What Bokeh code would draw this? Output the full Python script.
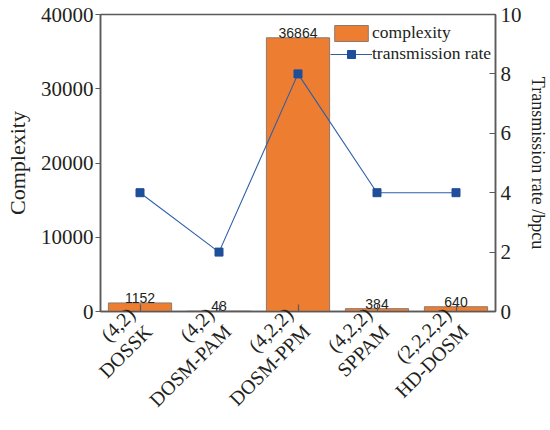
import math
from bokeh.plotting import figure
from bokeh.models import (ColumnDataSource, Range1d, LinearAxis, Legend, LegendItem,
                          FactorRange)
from bokeh.core.properties import value
from bokeh.embed import file_html
from bokeh.resources import INLINE

categories = ["(4,2)\nDOSSK", "(4,2)\nDOSM-PAM", "(4,2,2)\nDOSM-PPM", "(4,2,2)\nSPPAM", "(2,2,2,2)\nHD-DOSM"]
complexity = [1152, 48, 36864, 384, 640]
rate = [4, 2, 8, 4, 4]

SERIF = "Liberation Serif"
TXT = "#231f20"
AX = "#5a5a5a"

src = ColumnDataSource(dict(cat=categories, comp=complexity, rate=rate,
                            lbl=[str(v) for v in complexity]))

p = figure(width=550, height=430, x_range=FactorRange(*categories, range_padding=0),
           y_range=Range1d(0, 40000), output_backend="svg", toolbar_location=None,
           min_border_left=100, min_border_right=55, min_border_top=14, min_border_bottom=118)
p.extra_y_ranges = {"rate": Range1d(0, 10)}
p.background_fill_color = "white"

# complexity bars with their values on top
bars = p.vbar(x="cat", top="comp", width=0.8, source=src, fill_color="#ED7D31",
              line_color="#8c7a6e", line_width=1)
p.text(x="cat", y="comp", text="lbl", source=src, text_align="center",
       text_baseline="bottom", text_font_size="14px", text_font=value("Liberation Sans"),
       text_color=TXT)

# transmission rate on the secondary axis
ln = p.line(x="cat", y="rate", source=src, y_range_name="rate", line_color="#2F5EA8", line_width=1.1)
sq = p.scatter(x="cat", y="rate", source=src, y_range_name="rate", marker="square", size=8,
               fill_color="#1F4E9A", line_color="#1F4E9A")

right = LinearAxis(y_range_name="rate", axis_label="Transmission rate /bpcu")
p.add_layout(right, "right")

p.grid.visible = False
p.outline_line_color = AX
p.outline_line_width = 1.5

for ax in [p.yaxis[0], right]:
    ax.axis_label_text_font = SERIF
    ax.axis_label_text_font_style = "normal"
    ax.axis_label_text_color = TXT
    ax.major_label_text_font = SERIF
    ax.major_label_text_font_size = "21px"
    ax.major_label_text_color = TXT
    ax.axis_line_color = AX
    ax.axis_line_width = 1.5
    ax.major_tick_line_color = AX
    ax.major_tick_line_width = 1.2
    ax.minor_tick_line_color = None

p.yaxis[0].axis_label = "Complexity"
p.yaxis[0].axis_label_text_font_size = "22px"
p.yaxis[0].axis_label_standoff = 8
p.yaxis[0].ticker = [0, 10000, 20000, 30000, 40000]
p.yaxis[0].major_tick_out = 5
p.yaxis[0].major_tick_in = 0
p.yaxis[0].major_label_standoff = 2

right.axis_label_text_font_size = "18px"
right.axis_label_standoff = 3
right.ticker = [0, 2, 4, 6, 8, 10]
right.major_tick_in = 6
right.major_tick_out = 0
right.major_label_standoff = 5

# category axis: two-line labels turned by 45 degrees
xa = p.xaxis[0]
xa.major_label_orientation = math.pi / 4
xa.major_label_text_font = SERIF
xa.major_label_text_font_size = "20px"
xa.major_label_text_color = TXT
xa.major_label_text_line_height = 1.1
xa.major_label_standoff = 8
xa.axis_line_color = AX
xa.axis_line_width = 1.5
xa.major_tick_in = 7
xa.major_tick_out = 0
xa.major_tick_line_color = AX
xa.major_tick_line_width = 1.2

legend = Legend(items=[LegendItem(label="complexity", renderers=[bars]),
                       LegendItem(label="transmission rate", renderers=[ln, sq])],
                location=(230, 247), label_text_font=SERIF, label_text_font_size="17.5px",
                label_text_color=TXT,
                glyph_width=42, glyph_height=20, label_height=20, spacing=0, padding=0, margin=0,
                border_line_color=None, background_fill_alpha=0, label_standoff=0)
p.add_layout(legend)

open("out.html", "w").write(file_html(p, INLINE))
